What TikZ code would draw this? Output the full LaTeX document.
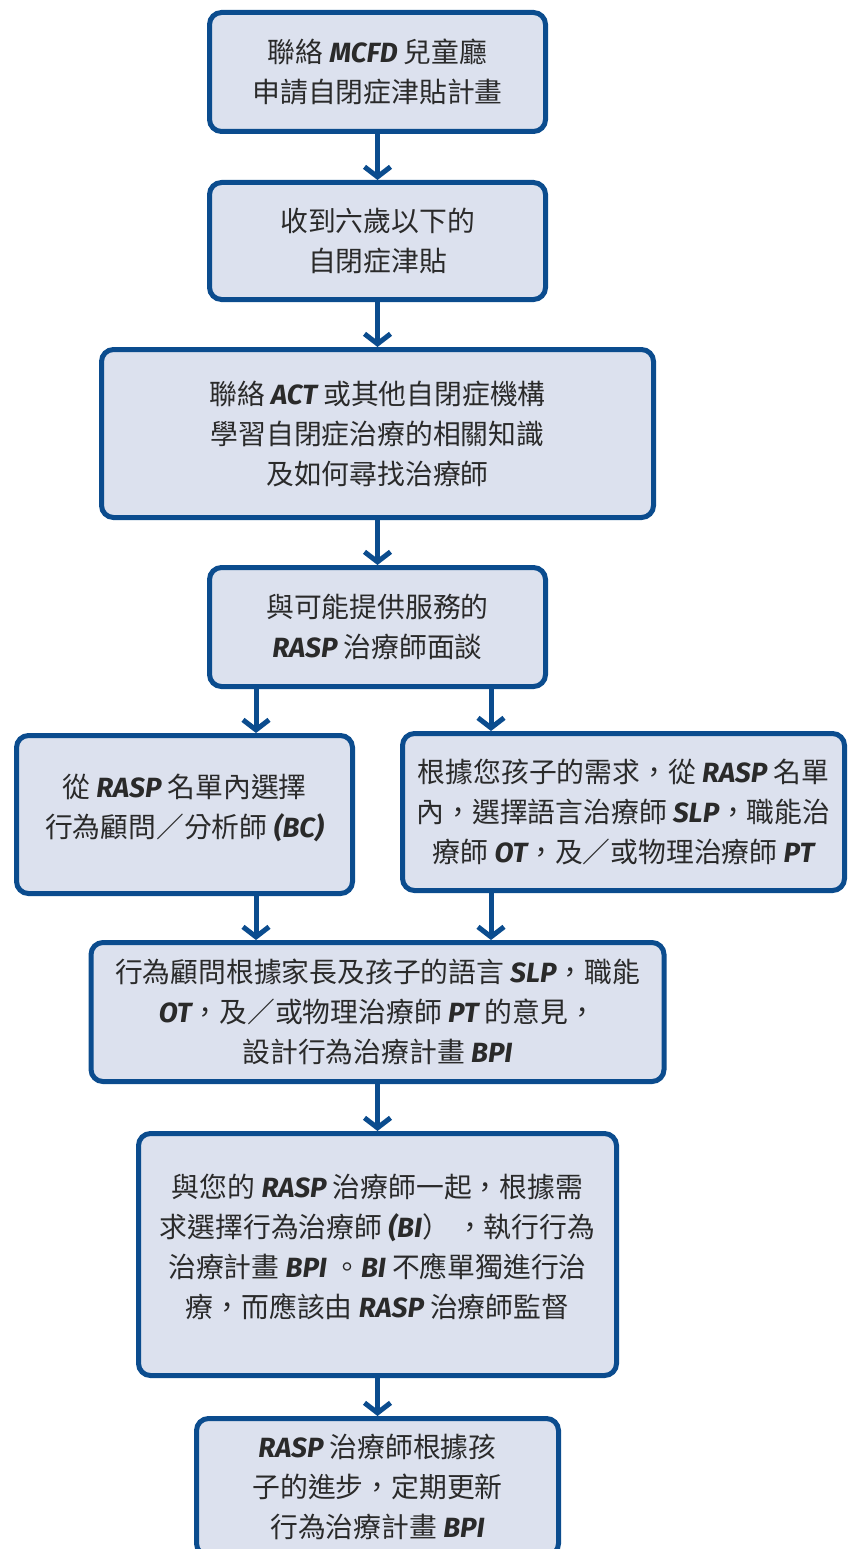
\documentclass[tikz,border=0pt]{standalone}
\usepackage{fontspec}
\setmainfont{Noto Sans CJK TC}
\newfontfamily\latinfont{Fira Sans}
\usepackage{tikz}
\usetikzlibrary{positioning,arrows.meta}

\definecolor{flowblue}{HTML}{0B4C8E}
\definecolor{flowfill}{HTML}{DCE1EE}
\definecolor{flowtext}{HTML}{2A2A2A}

\newcommand{\eng}[1]{{\latinfont\bfseries\itshape #1}}
% empty last line, lifts the text a little in tall boxes
\newcommand{\liftline}{\\[-22pt]\mbox{}}

\begin{document}
\begin{tikzpicture}
                [
                    x=1pt,
                    y=1pt,
                    ->,
                    >={Straight Barb[length=10pt,width=26pt]},
                    line width=5pt,
                    color=flowblue,
                    flow box/.style={shape=rectangle, draw=flowblue, fill=flowfill,
                        text=flowtext, rounded corners=12pt, align=center,
                        font=\fontsize{27.8}{40}\selectfont, inner sep=0pt,
                        minimum width=336pt, minimum height=119pt},
                    flow box wide/.style={flow box, minimum width=552pt, minimum height=168pt},
                    lane left/.style={xshift=-193pt},
                    lane right/.style={xshift=246pt}
                ]
                \useasboundingbox (0,0) rectangle (854,-1549);

                \node (contact mcfd) [flow box] at (377.5,-72)
                      {聯絡 \eng{MCFD} 兒童廳\\申請自閉症津貼計畫};

                \node (funding)
                      [flow box, below=46pt of contact mcfd, minimum height=117pt]
                      {收到六歲以下的\\自閉症津貼};

                \node (contact act)
                      [flow box wide, below=45pt of funding]
                      {聯絡 \eng{ACT} 或其他自閉症機構\\學習自閉症治療的相關知識\\及如何尋找治療師};

                \node (interview)
                      [flow box, below=45pt of contact act]
                      {與可能提供服務的\\\eng{RASP} 治療師面談};

                \node (choose bc)
                      [flow box, below=44pt of interview, lane left, minimum height=158pt]
                      {從 \eng{RASP} 名單內選擇\\行為顧問／分析師 \eng{(BC)}\liftline};

                \node (choose therapists)
                      [flow box, below=42pt of interview, lane right,
                       minimum width=442pt, minimum height=157pt]
                      {根據您孩子的需求，從 \eng{RASP} 名單\\內，選擇語言治療師 \eng{SLP}，職能治\\療師 \eng{OT}，及／或物理治療師 \eng{PT}};

                \node (design bpi)
                      [flow box, below=44pt of choose bc, xshift=193pt,
                       minimum width=573pt, minimum height=139pt]
                      {行為顧問根據家長及孩子的語言 \eng{SLP}，職能\\\eng{OT}，及／或物理治療師 \eng{PT} 的意見，\\設計行為治療計畫 \eng{BPI}};

                \node (run bpi)
                      [flow box, below=47pt of design bpi,
                       minimum width=478pt, minimum height=242pt]
                      {與您的 \eng{RASP} 治療師一起，根據需\\求選擇行為治療師 \eng{(BI}） ，執行行為\\治療計畫 \eng{BPI} 。\eng{BI} 不應單獨進行治\\療，而應該由 \eng{RASP} 治療師監督\liftline};

                \node (update bpi)
                      [flow box, below=38pt of run bpi,
                       minimum width=362pt, minimum height=137pt]
                      {\eng{RASP} 治療師根據孩\\子的進步，定期更新\\行為治療計畫 \eng{BPI}};

                \coordinate (split left) at ([xshift=-121.5pt]interview.south);
                \coordinate (split right) at ([xshift=113.5pt]interview.south);
                \coordinate (join left) at (split left |- choose bc.south);
                \coordinate (join right) at (split right |- choose therapists.south);

                \path
                (contact mcfd) edge (funding)
                (funding) edge (contact act)
                (contact act) edge (interview)
                (split left) edge (split left |- choose bc.north)
                (split right) edge (split right |- choose therapists.north)
                (join left) edge (join left |- design bpi.north)
                (join right) edge (join right |- design bpi.north)
                (design bpi) edge (run bpi)
                (run bpi) edge (update bpi)
                ;

\end{tikzpicture}
\end{document}
